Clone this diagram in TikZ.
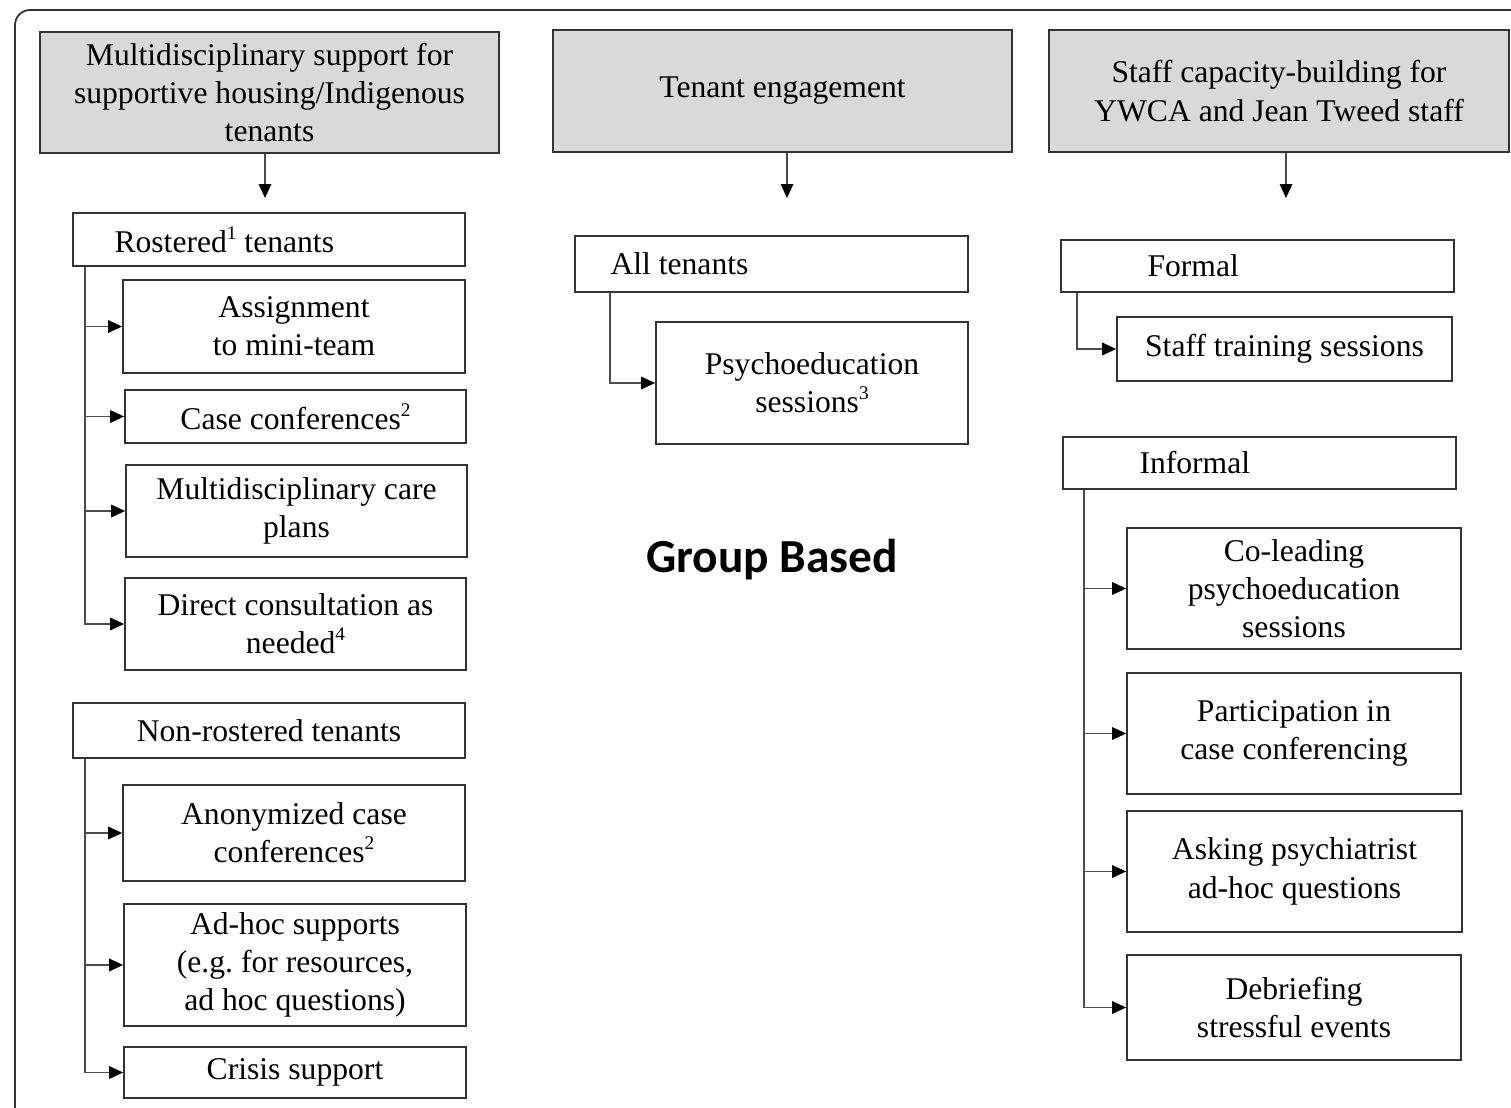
\documentclass[tikz,border=0pt]{standalone}
\usepackage{fontspec}
\setmainfont{Liberation Serif}
\newfontfamily\grpfont{Carlito}
\usetikzlibrary{arrows.meta}

\newcommand\fnote[1]{\raisebox{0.42em}{\fontsize{11}{11}\selectfont #1}}

\tikzset{
  box/.style={draw=black!80, line width=1pt, inner sep=2pt, align=center,
    font=\fontsize{18}{21.8}\selectfont},
  head/.style={box, fill=black!15},
  leaf/.style={box},
  tag/.style={anchor=west, inner sep=0pt, font=\fontsize{18}{21.8}\selectfont},
  link/.style={draw=black!70, line width=1pt, -{Triangle[length=2.8mm,width=2.5mm,black]}},
}

\begin{document}
\begin{tikzpicture}[x=0.02cm, y=-0.02cm]
	\useasboundingbox (0,0) rectangle (1511,1108);
	\draw[black!80, line width=1pt, rounded corners=0.3cm] (15,1115) -- (15,10) -- (1520,10);
	
	% column heads
	\node[head, minimum width=9.18cm, minimum height=2.42cm] (h1) at (269.5,92.5) {Multidisciplinary support for\\supportive housing/Indigenous\\tenants};
	\node[head, minimum width=9.18cm, minimum height=2.44cm] (h2) at (782.5,91) {Tenant engagement};
	\node[head, minimum width=9.2cm, minimum height=2.44cm] (h3) at (1279,91) {Staff capacity-building for\\YWCA and Jean Tweed staff};
	
	\coordinate (e1) at (265,198);
	\coordinate (e2) at (787,198);
	\coordinate (e3) at (1286,198);
	\draw[link] (e1 |- h1.south) -- (e1);
	\draw[link] (e2 |- h2.south) -- (e2);
	\draw[link] (e3 |- h3.south) -- (e3);
	
	% left column
	\node[leaf, minimum width=7.84cm, minimum height=1.06cm] (rost) at (269,239.5) {};
	\node[tag] (rostt) at ([xshift=0.84cm]rost.west) {Rostered\fnote{1} tenants};
	\node[leaf, minimum width=6.84cm, minimum height=1.86cm] (asgn) at (294,326.5) {Assignment\\to mini-team};
	\node[leaf, minimum width=6.82cm, minimum height=1.06cm] (cc) at (295.5,416.5) {Case conferences\fnote{2}};
	\node[leaf, minimum width=6.82cm, minimum height=1.84cm] (mcp) at (296.5,511) {Multidisciplinary care\\plans};
	\node[leaf, minimum width=6.82cm, minimum height=1.84cm] (dc) at (295.5,624) {Direct consultation as\\needed\fnote{4}};
	
	\coordinate (s1) at ([xshift=0.26cm]rost.south west);
	\foreach \c in {asgn,cc,mcp,dc}
		\draw[link] (s1) |- (\c.west);
	
	\node[leaf, minimum width=7.84cm, minimum height=1.1cm] (nonr) at (269,730.5) {Non-rostered tenants};
	\node[leaf, minimum width=6.84cm, minimum height=1.92cm] (anon) at (294,833) {Anonymized case\\conferences\fnote{2}};
	\node[leaf, minimum width=6.84cm, minimum height=2.44cm] (adhoc) at (295,965) {Ad-hoc supports\\(e.g.\ for resources,\\ad hoc questions)};
	\node[leaf, minimum width=6.84cm, minimum height=1.02cm] (crisis) at (295,1072.5) {Crisis support};
	
	\coordinate (s2) at ([xshift=0.26cm]nonr.south west);
	\foreach \c in {anon,adhoc,crisis}
		\draw[link] (s2) |- (\c.west);
	
	% middle column
	\node[leaf, minimum width=7.86cm, minimum height=1.12cm] (all) at (771.5,264) {};
	\node[tag] (allt) at ([xshift=0.72cm]all.west) {All tenants};
	\node[leaf, minimum width=6.24cm, minimum height=2.44cm] (psy) at (812,383) {Psychoeducation\\sessions\fnote{3}};
	\coordinate (s3) at ([xshift=0.72cm]all.south west);
	\draw[link] (s3) |- (psy.west);
	
	\node[font=\grpfont\bfseries\fontsize{27}{32}\selectfont] (grp) at (772,560) {Group Based};
	
	% right column
	\node[leaf, minimum width=7.86cm, minimum height=1.04cm] (formal) at (1257.5,266) {};
	\node[tag] (formalt) at ([xshift=1.74cm]formal.west) {Formal};
	\node[leaf, minimum width=6.7cm, minimum height=1.28cm] (train) at (1284.5,349) {Staff training sessions};
	\coordinate (s4) at ([xshift=0.34cm]formal.south west);
	\draw[link] (s4) |- (train.west);
	
	\node[leaf, minimum width=7.86cm, minimum height=1.04cm] (inf) at (1259.5,463) {};
	\node[tag] (inft) at ([xshift=1.54cm]inf.west) {Informal};
	\node[leaf, minimum width=6.68cm, minimum height=2.42cm] (colead) at (1294,588.5) {Co-leading\\psychoeducation\\sessions};
	\node[leaf, minimum width=6.68cm, minimum height=2.42cm] (part) at (1294,733.5) {Participation in\\case conferencing};
	\node[leaf, minimum width=6.7cm, minimum height=2.42cm] (ask) at (1294.5,871.5) {Asking psychiatrist\\ad-hoc questions};
	\node[leaf, minimum width=6.68cm, minimum height=2.1cm] (debr) at (1294,1007.5) {Debriefing\\stressful events};
	
	\coordinate (s5) at ([xshift=0.44cm]inf.south west);
	\foreach \c in {colead,part,ask,debr}
		\draw[link] (s5) |- (\c.west);
\end{tikzpicture}
\end{document}
